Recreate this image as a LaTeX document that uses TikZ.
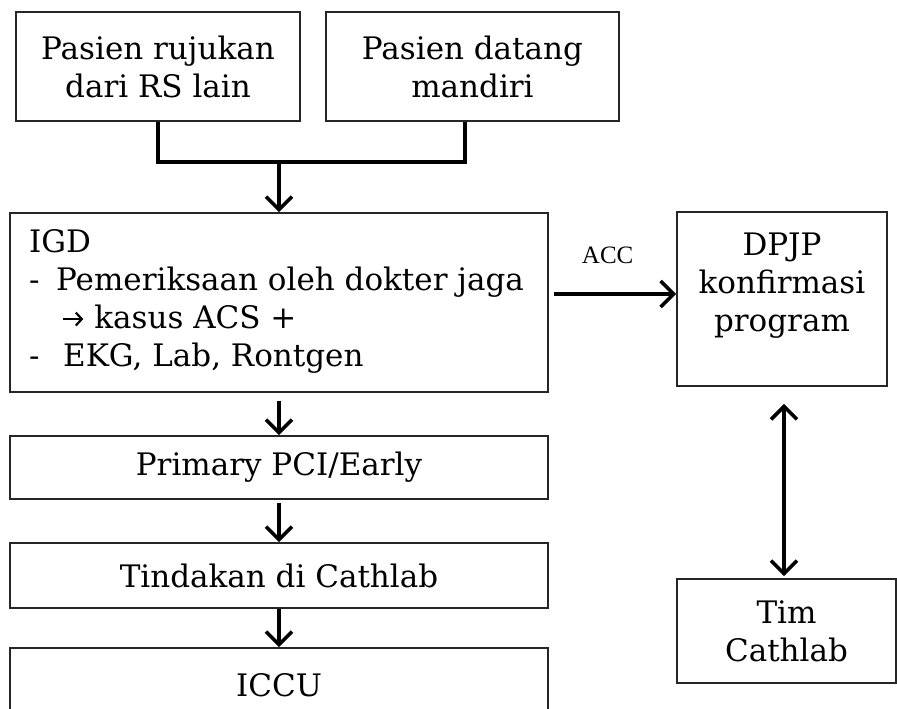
\documentclass[tikz,border=0pt]{standalone}
\usepackage{fontspec}
\setmainfont{DejaVu Serif}
\newfontfamily\accfont{Liberation Serif}
\usetikzlibrary{arrows.meta,calc}
% short bold arrow used inside running text
\newcommand{\inlinearrow}{\tikz[baseline=0pt]\draw[line width=2.2pt, -{Straight Barb[length=6pt,width=13pt,line width=2.2pt]}] (0pt,9pt) -- (20pt,9pt);}
\begin{document}
\begin{tikzpicture}[x=1pt,y=-1pt,
  box/.style={draw=black!85, line width=1.8pt, inner sep=0pt},
  txt/.style={inner sep=0pt, font=\fontsize{31}{38}\selectfont, align=center},
  link/.style={line width=3.8pt},
  flow/.style={line width=3.6pt, -{Straight Barb[length=13pt,width=26pt,line width=3.6pt]}},
  both/.style={line width=3.6pt, {Straight Barb[length=13pt,width=26pt,line width=3.6pt]}-{Straight Barb[length=13pt,width=26pt,line width=3.6pt]}}
]
\useasboundingbox (0,0) rectangle (897,709);

% incoming patients
\node[box, minimum width=284pt, minimum height=109pt] (rujuk) at (158,66.5) {};
\node[txt] (rujukt) at (rujuk.center) {Pasien rujukan\\dari RS lain};
\node[box, minimum width=293pt, minimum height=109pt] (mandiri) at (472.5,66.5) {};
\node[txt] (mandirit) at (mandiri.center) {Pasien datang\\mandiri};

% emergency unit
\node[box, minimum width=538pt, minimum height=179pt] (igd) at (279,302.5) {};
\node[txt, anchor=west, align=left] (igdt) at (29,301) {IGD\\
\makebox[27pt][l]{-}Pemeriksaan oleh dokter jaga\\
\hspace*{33pt}\inlinearrow\hspace{10pt}kasus ACS +\\
\makebox[34pt][l]{-}EKG, Lab, Rontgen};

% main flow
\node[box, minimum width=538pt, minimum height=63pt] (pci) at (279,467.5) {};
\node[txt] (pcit) at (pci.center) {Primary PCI/Early};
\node[box, minimum width=538pt, minimum height=65pt] (tind) at (279,575.5) {};
\node[txt] (tindt) at (tind.center) {Tindakan di Cathlab};
\node[box, minimum width=538pt, minimum height=74pt] (iccu) at (279,685) {};
\node[txt] (iccut) at (iccu.center) {ICCU};

% right column
\node[box, minimum width=210pt, minimum height=174pt] (dpjp) at (782,299) {};
\node[txt] (dpjpt) at (782,286) {DPJP\\konfirmasi\\program};
\node[box, minimum width=219pt, minimum height=104pt] (tim) at (786.5,631) {};
\node[txt] (timt) at (tim.center) {Tim\\Cathlab};

% connectors
\coordinate (join) at (279,162);
\draw[link] (rujuk.south) |- (join) -| ([xshift=-7.5pt]mandiri.south);
\draw[flow] (join) -- (igd.north);
\draw[flow] ([yshift=-8pt]igd.south) -- (pci.north);
\draw[flow] ([yshift=-3pt]pci.south) -- (tind.north);
\draw[flow] (tind.south) -- (iccu.north);

\coordinate (accstart) at ($(igd.east)+(5,-8.5)$);
\draw[flow] (accstart) -- (accstart -| dpjp.west)
  node[pos=0.44, above=28pt, inner sep=0pt, font=\accfont\fontsize{25}{25}\selectfont] (acc) {ACC};

\draw[both] ([yshift=-17pt]dpjp.south -| 784,0) -- ([yshift=2pt]tim.north -| 784,0);
\end{tikzpicture}
\end{document}
